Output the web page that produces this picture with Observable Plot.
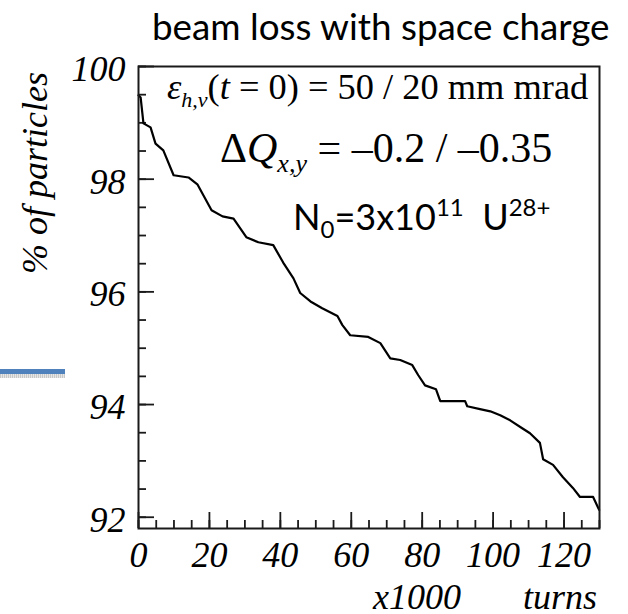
<!DOCTYPE html>
<html><head><meta charset="utf-8">
<script src="https://cdn.jsdelivr.net/npm/d3@7"></script>
<script src="https://cdn.jsdelivr.net/npm/@observablehq/plot@0.6"></script>
<style>
html,body{margin:0;padding:0;background:#fff}
body{width:628px;height:614px;overflow:hidden;position:relative}
#title{position:absolute;left:152px;top:8px;font-family:Lato,"Open Sans",sans-serif;font-size:36.8px;line-height:36px;color:#000;white-space:nowrap}
#chart{position:absolute;left:0;top:50px;z-index:1}
#deco{position:absolute;left:0;top:369px;width:65px;height:5px;background:#4f81bd;z-index:2}
#deco2{position:absolute;left:0;top:374px;width:65px;height:4px;background:repeating-linear-gradient(90deg,#c8c8c8 0 1px,#e6e6e6 1px 2px);z-index:2}
</style>
</head><body>
<div id="title">beam loss with space charge</div>
<div id="chart"></div>
<div id="deco"></div><div id="deco2"></div>
<script>
// x1000 turns
const turns = [0, 0.6, 1.4, 3.4, 4.8, 7.0, 9.9, 14.1, 16.6, 20.6, 23.7, 26.8, 30.4, 33.8, 38.0, 40.8, 43.7, 45.6, 48.5, 51.8, 56.1, 57.5, 59.7, 64.8, 68.2, 71.0, 73.8, 77.2, 78.9, 80.8, 83.9, 85.1, 92.1, 92.7, 96.3, 99.2, 102.0, 104.8, 108.2, 110.4, 113.2, 114.1, 116.9, 119.7, 122.5, 124.5, 128.2, 129.9];
// % of particles
const particles = [99.49, 99.45, 98.99, 98.92, 98.63, 98.51, 98.07, 98.03, 97.91, 97.45, 97.34, 97.30, 96.97, 96.88, 96.83, 96.52, 96.24, 95.98, 95.83, 95.71, 95.57, 95.41, 95.23, 95.20, 95.09, 94.82, 94.79, 94.70, 94.52, 94.34, 94.27, 94.06, 94.06, 93.97, 93.92, 93.88, 93.81, 93.72, 93.58, 93.49, 93.32, 93.03, 92.93, 92.71, 92.52, 92.36, 92.36, 92.13];
const xMajor = [0, 20, 40, 60, 80, 100, 120];
const xMinor = [0, 5, 10, 15, 20, 25, 30, 35, 40, 45, 50, 55, 60, 65, 70, 75, 80, 85, 90, 95, 100, 105, 110, 115, 120, 125, 130];
const yMajor = [92, 94, 96, 98, 100];
const yMinor = [92, 92.5, 93, 93.5, 94, 94.5, 95, 95.5, 96, 96.5, 97, 97.5, 98, 98.5, 99, 99.5, 100];

const data = turns.map((t, i) => ({turns: t, pct: particles[i]}));
const W = 628, H = 564, mL = 138, mR = 29, mT = 16, mB = 86;
const plotW = W - mL - mR, plotH = H - mT - mB;
const serif = "'Liberation Serif','Times New Roman',serif";
const sans = "Lato,'Open Sans',sans-serif";
const ink = "#1a1a1a";

const chart = Plot.plot({
  width: W, height: H,
  marginLeft: mL, marginRight: mR, marginTop: mT, marginBottom: mB,
  style: {background: "#fff", color: "#000", overflow: "visible"},
  x: {domain: [0, 130]},
  y: {domain: [91.8, 100]},
  marks: [
    Plot.tickX(xMinor, {x: d => d, insetTop: plotH - 8, stroke: ink, strokeWidth: 1.8}),
    Plot.tickX(xMajor, {x: d => d, insetTop: plotH - 16, stroke: ink, strokeWidth: 1.8}),
    Plot.tickY(yMinor, {y: d => d, insetRight: plotW - 8, stroke: ink, strokeWidth: 1.8}),
    Plot.tickY(yMajor, {y: d => d, insetRight: plotW - 16, stroke: ink, strokeWidth: 1.8}),
    Plot.axisX({ticks: xMajor, tickSize: 0, tickPadding: 13, fontSize: 36, fontStyle: "italic", fontFamily: serif, label: null, tickFormat: d => String(d)}),
    Plot.axisY({ticks: yMajor, tickSize: 0, tickPadding: 13, fontSize: 36, fontStyle: "italic", fontFamily: serif, label: null, dy: 3, tickFormat: d => String(d)}),
    Plot.line(data, {x: "turns", y: "pct", stroke: "#000", strokeWidth: 2.2}),
    Plot.frame({stroke: ink, strokeWidth: 2})
  ]
});
document.getElementById("chart").appendChild(chart);

const svg = d3.select(chart);
// y axis label
svg.append("text")
  .attr("transform", "translate(47,123) rotate(-90)")
  .attr("text-anchor", "middle")
  .attr("font-family", serif).attr("font-style", "italic").attr("font-size", 36)
  .attr("fill", "#000")
  .text("% of particles");
// x axis labels
svg.append("text").attr("x", 373).attr("y", 559).attr("text-anchor", "start")
  .attr("font-family", serif).attr("font-style", "italic").attr("font-size", 36).attr("fill", "#000")
  .text("x1000");
svg.append("text").attr("x", 597).attr("y", 559).attr("text-anchor", "end")
  .attr("font-family", serif).attr("font-style", "italic").attr("font-size", 36).attr("fill", "#000")
  .text("turns");

// annotation 1: emittance
const t1 = svg.append("text").attr("x", 167).attr("y", 49).attr("text-anchor", "start")
  .attr("font-family", serif).attr("font-size", 36.4).attr("fill", "#000");
t1.append("tspan").attr("font-style", "italic").text("ε");
t1.append("tspan").attr("font-style", "italic").attr("font-size", 22).attr("dy", 8).text("h,v");
t1.append("tspan").attr("dy", -8).text("(");
t1.append("tspan").attr("font-style", "italic").text("t");
t1.append("tspan").text(" = 0) = 50 / 20 mm mrad");

// annotation 2: tune shift
const t2 = svg.append("text").attr("x", 220).attr("y", 112).attr("text-anchor", "start")
  .attr("font-family", serif).attr("font-size", 42).attr("fill", "#000");
t2.append("tspan").text("Δ");
t2.append("tspan").attr("font-style", "italic").text("Q");
t2.append("tspan").attr("font-style", "italic").attr("font-size", 26).attr("dy", 10).text("x,y");
t2.append("tspan").attr("dy", -10).text(" = –0.2 / –0.35");

// annotation 3: intensity
const t3 = svg.append("text").attr("x", 293).attr("y", 180).attr("text-anchor", "start")
  .attr("font-family", sans).attr("font-size", 36).attr("fill", "#000");
t3.append("tspan").text("N");
t3.append("tspan").attr("font-size", 24).attr("dy", 8).text("0");
t3.append("tspan").attr("dy", -8).text("=3x10");
t3.append("tspan").attr("font-size", 24).attr("dy", -14).text("11");
t3.append("tspan").attr("dy", 14).text("\u00a0 U");
t3.append("tspan").attr("font-size", 24).attr("dy", -14).text("28+");
</script>
</body></html>
